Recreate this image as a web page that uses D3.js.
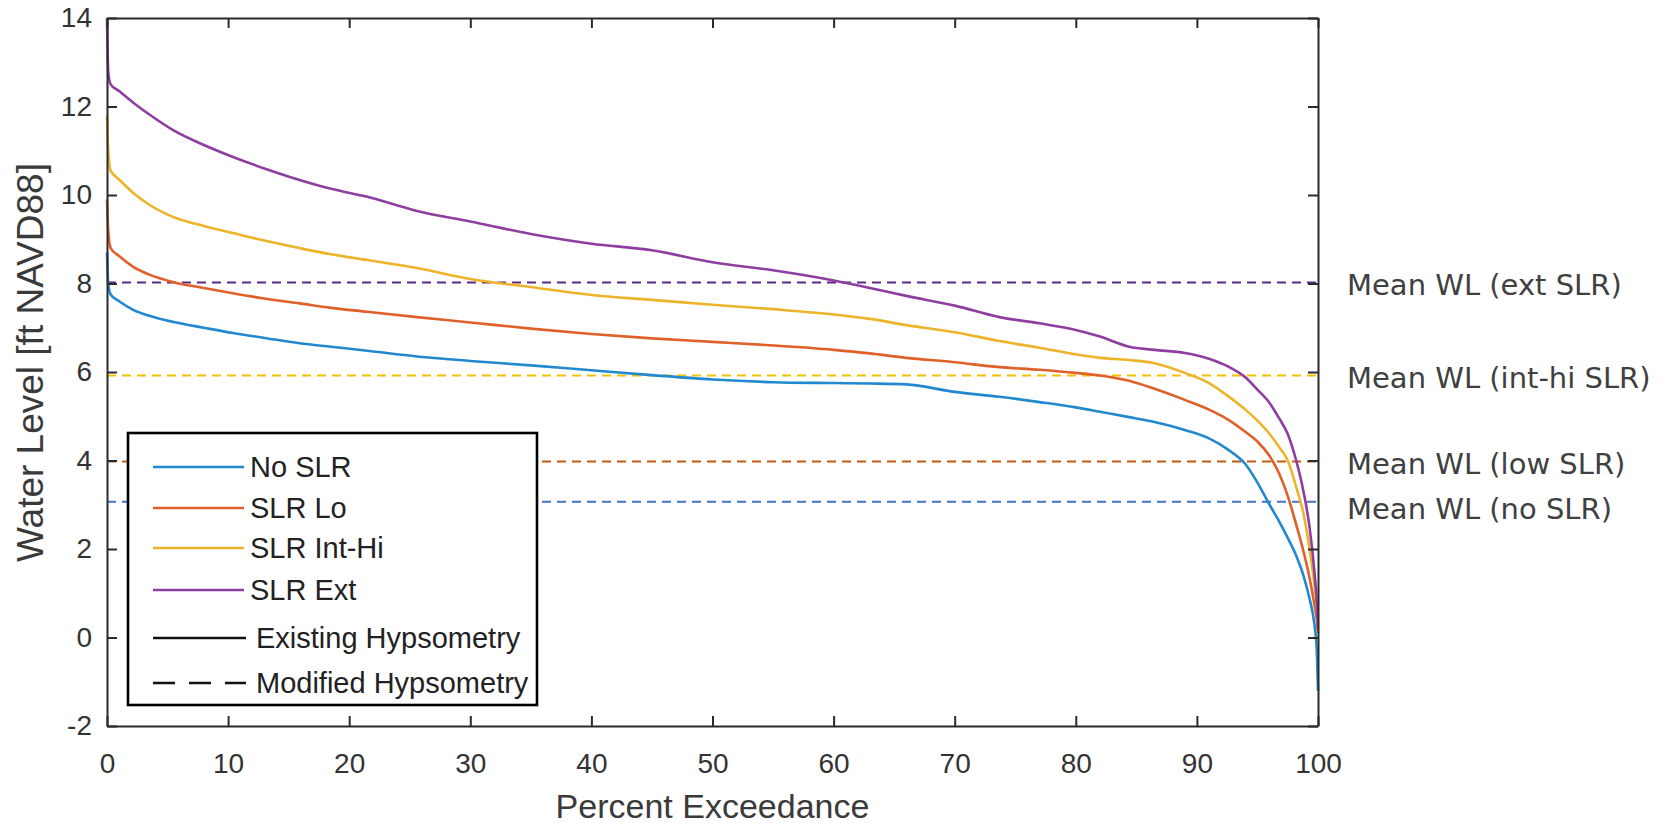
<!DOCTYPE html>
<html>
<head>
<meta charset="utf-8">
<script src="https://cdn.jsdelivr.net/npm/d3@7"></script>
<style>
  body { margin: 0; background: #fff; }
  svg { display: block; }
</style>
</head>
<body>
<svg id="chart"></svg>
<script>
// percent exceedance grid shared by all curves
const pct = [0, 0.1, 0.3, 1, 2.2, 3.5, 5.5, 8, 10.4, 13, 15.9, 18.5, 21.5, 25.6, 30, 35, 40, 45, 50, 55,
  60, 63, 66, 70, 73.7, 77, 80, 82, 84.4, 86.5, 89, 91, 92.6, 94, 95, 96, 96.8, 97.5, 98.2, 98.8, 99.3, 99.7, 99.9, 100];

// water level [ft NAVD88]
const noSLR = [8.7, 8.0, 7.75, 7.6, 7.4, 7.27, 7.13, 7.0, 6.88, 6.77, 6.65, 6.57, 6.48, 6.35, 6.25, 6.15, 6.04, 5.93, 5.83, 5.77,
  5.75, 5.74, 5.72, 5.55, 5.44, 5.32, 5.2, 5.1, 4.98, 4.87, 4.69, 4.5, 4.24, 3.92, 3.5, 3.0, 2.62, 2.25, 1.85, 1.4, 0.88, 0.3, -0.3, -1.2];
const slrLo = [9.9, 9.2, 8.8, 8.62, 8.37, 8.2, 8.03, 7.9, 7.78, 7.66, 7.55, 7.45, 7.36, 7.24, 7.12, 6.98, 6.86, 6.76, 6.68, 6.6,
  6.5, 6.42, 6.32, 6.22, 6.11, 6.05, 5.98, 5.92, 5.8, 5.62, 5.37, 5.15, 4.92, 4.65, 4.43, 4.1, 3.7, 3.2, 2.55, 1.95, 1.35, 0.75, 0.4, 0.1];
const slrIntHi = [11.8, 11.0, 10.55, 10.35, 10.04, 9.78, 9.5, 9.3, 9.14, 8.97, 8.8, 8.66, 8.53, 8.35, 8.1, 7.92, 7.74, 7.63, 7.52, 7.42,
  7.3, 7.2, 7.06, 6.9, 6.7, 6.55, 6.4, 6.32, 6.27, 6.2, 5.98, 5.75, 5.45, 5.15, 4.9, 4.6, 4.3, 4.0, 3.4, 2.8, 2.0, 1.2, 0.7, 0.3];
const slrExt = [14.0, 12.8, 12.5, 12.35, 12.08, 11.82, 11.46, 11.13, 10.86, 10.6, 10.34, 10.14, 9.96, 9.64, 9.4, 9.12, 8.9, 8.75, 8.48, 8.3,
  8.07, 7.9, 7.72, 7.5, 7.24, 7.1, 6.95, 6.8, 6.57, 6.5, 6.43, 6.3, 6.12, 5.88, 5.6, 5.3, 4.95, 4.6, 4.0, 3.3, 2.5, 1.5, 0.8, 0.2];

const seriesNames = ["No SLR", "SLR Lo", "SLR Int-Hi", "SLR Ext"];
const seriesColors = ["#2389cf", "#e0602a", "#edb42a", "#8e3ea0"];

// mean water levels (dashed reference lines)
const meanLabels = ["Mean WL (ext SLR)", "Mean WL (int-hi SLR)", "Mean WL (low SLR)", "Mean WL (no SLR)"];
const meanValues = [8.02, 5.92, 3.98, 3.07];
const meanColors = ["#5b2a86", "#f5c000", "#c55a11", "#4472c4"];

const xTicks = [0, 10, 20, 30, 40, 50, 60, 70, 80, 90, 100];
const yTicks = [-2, 0, 2, 4, 6, 8, 10, 12, 14];

const W = 1676, H = 826;
const margin = { top: 18, right: 358, bottom: 100, left: 107 };
const width = W - margin.left - margin.right,
      height = H - margin.top - margin.bottom;

const svg = d3.select("#chart").attr("width", W).attr("height", H);
svg.append("rect").attr("width", W).attr("height", H).attr("fill", "#fff");

const g = svg.append("g").attr("transform", `translate(${margin.left},${margin.top})`);

const x = d3.scaleLinear().domain([0, 100]).range([0, width]);
const y = d3.scaleLinear().domain([-2, 14]).range([height, 0]);

const axisFont = "'Liberation Sans', Arial, sans-serif";
const axisColor = "#2b2b2b";
const plainNum = d => String(d);   // keep hyphen-minus like the original

// mean WL dashed lines
g.selectAll(".mean")
  .data(meanValues)
  .enter()
  .append("line")
    .attr("x1", x(0)).attr("x2", x(100))
    .attr("y1", d => y(d)).attr("y2", d => y(d))
    .attr("stroke", (d, i) => meanColors[i])
    .attr("stroke-width", 2)
    .attr("stroke-dasharray", "9,6");

// curves
const seriesData = [noSLR, slrLo, slrIntHi, slrExt];
const line = d3.line()
  .x((d, i) => x(pct[i]))
  .y(d => y(d))
  .curve(d3.curveMonotoneX);

g.selectAll(".curve")
  .data(seriesData)
  .enter()
  .append("path")
    .attr("d", d => line(d))
    .attr("fill", "none")
    .attr("stroke", (d, i) => seriesColors[i])
    .attr("stroke-width", 2.6)
    .attr("stroke-linejoin", "round");

// axes, MATLAB-style box with inward ticks
function styleAxis(sel) {
  sel.selectAll("path").attr("stroke", axisColor).attr("stroke-width", 2);
  sel.selectAll("line").attr("stroke", axisColor).attr("stroke-width", 2);
  sel.selectAll("text").attr("fill", "#333").attr("font-size", 28).attr("font-family", axisFont);
}

g.append("g")
  .attr("transform", `translate(0,${height})`)
  .call(d3.axisBottom(x).tickValues(xTicks).tickFormat(plainNum).tickSize(-10).tickSizeOuter(0).tickPadding(27))
  .call(styleAxis);

g.append("g")
  .call(d3.axisLeft(y).tickValues(yTicks).tickFormat(plainNum).tickSize(-10).tickSizeOuter(0).tickPadding(15))
  .call(styleAxis);

g.append("g")
  .call(d3.axisTop(x).tickValues(xTicks).tickSize(-10).tickSizeOuter(0).tickFormat(""))
  .call(styleAxis);

g.append("g")
  .attr("transform", `translate(${width},0)`)
  .call(d3.axisRight(y).tickValues(yTicks).tickSize(-10).tickSizeOuter(0).tickFormat(""))
  .call(styleAxis);

// axis titles
svg.append("text")
  .attr("x", margin.left + width / 2)
  .attr("y", 818)
  .attr("text-anchor", "middle")
  .attr("font-family", axisFont)
  .attr("font-size", 34)
  .attr("fill", "#3a3a3a")
  .text("Percent Exceedance");

svg.append("text")
  .attr("transform", "translate(43,562) rotate(-90)")
  .attr("text-anchor", "start")
  .attr("font-family", axisFont)
  .attr("font-size", 37)
  .attr("fill", "#3a3a3a")
  .text("Water Level [ft NAVD88]");

// right-hand labels for the mean lines
g.selectAll(".meanLabel")
  .data(meanLabels)
  .enter()
  .append("text")
    .attr("x", width + 29)
    .attr("y", (d, i) => y(meanValues[i]) + (i === 3 ? 7 : 2))
    .attr("dy", "0.35em")
    .attr("font-family", "'DejaVu Sans', Verdana, sans-serif")
    .attr("font-size", 29)
    .attr("fill", "#404040")
    .text(d => d);

// legend
const leg = g.append("g").attr("transform", "translate(21,415)");
leg.append("rect")
  .attr("width", 409).attr("height", 272)
  .attr("fill", "#fff")
  .attr("stroke", "#000")
  .attr("stroke-width", 2.6);

const legItems = seriesNames.map((n, i) => ({ name: n, color: seriesColors[i], dash: null }))
  .concat([{ name: "Existing Hypsometry", color: "#111", dash: null },
           { name: "Modified Hypsometry", color: "#111", dash: "22,14" }]);
const legY = [34, 75, 115, 157, 205, 250];

legItems.forEach((d, i) => {
  leg.append("line")
    .attr("x1", 25).attr("x2", i < 4 ? 116 : 118)
    .attr("y1", legY[i]).attr("y2", legY[i])
    .attr("stroke", d.color)
    .attr("stroke-width", 2.4)
    .attr("stroke-dasharray", d.dash);
  leg.append("text")
    .attr("x", i < 4 ? 122 : 128)
    .attr("y", legY[i])
    .attr("dy", "0.36em")
    .attr("font-family", axisFont)
    .attr("font-size", 29)
    .attr("fill", "#222")
    .text(d.name);
});
</script>
</body>
</html>
